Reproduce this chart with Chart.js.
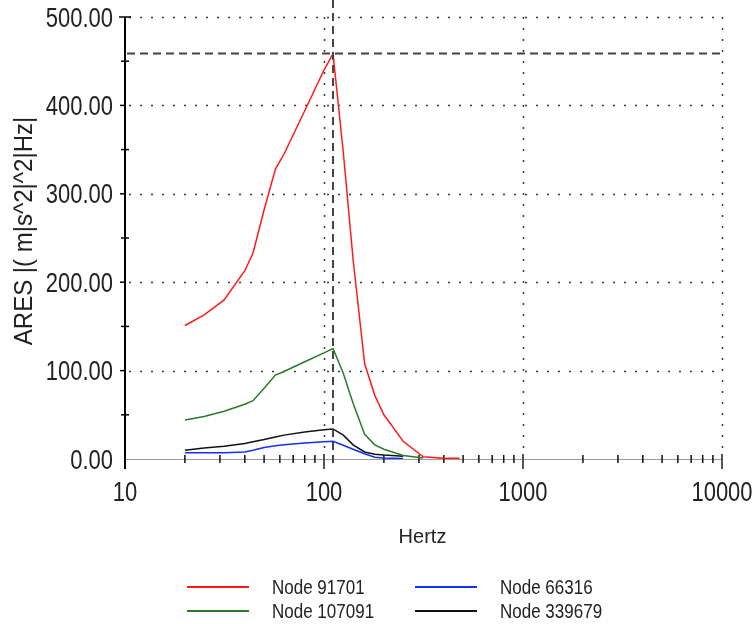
<!DOCTYPE html>
<html>
<head>
<meta charset="utf-8">
<script src="https://cdn.jsdelivr.net/npm/chart.js@4.4.1/dist/chart.umd.min.js"></script>
<style>
  html, body { margin: 0; padding: 0; background: #fff; }
  #wrap { width: 755px; height: 624px; position: relative; }
</style>
</head>
<body>
<div id="wrap"><canvas id="c"></canvas></div>
<script>
// Response spectra sampled at a shared set of frequencies (Hz)
const hertz      = [20, 25, 31.5, 40, 44, 50, 57, 63, 80, 100, 111, 125, 140, 160, 180, 200, 250, 315, 400, 480];
const node91701  = [151, 163, 180, 213, 233, 282, 328, 345, 394, 440, 458.6, 347, 226, 108, 72, 50, 20, 2.5, 0.8, 0.8];
const node107091 = [44, 48, 54, 62, 66, 80, 95, 99, 110, 120, 125, 97, 63, 28, 16, 11, 4, 1, null, null];
const node66316  = [7, 7, 7, 8, 10, 13, 15, 16, 18, 19.5, 20, 15.5, 11, 6, 2, 1, 0.5, null, null, null];
const node339679 = [10, 12.5, 14.5, 17.5, 19.5, 22, 25, 27, 30.5, 33, 34, 27, 16, 8, 5.5, 4.5, 3, null, null, null];

const seriesNames  = ['Node 91701', 'Node 107091', 'Node 66316', 'Node 339679'];
const seriesColors = ['#ff1a1a', '#2a7a2a', '#1030ff', '#111111'];

const xTicks = [10, 100, 1000, 10000];
const yTicks = [0, 100, 200, 300, 400, 500];
const yMinorTicks = [50, 150, 250, 350, 450];

const xTitle = 'Hertz';
const yTitle = 'ARES |( m|s^2|^2|Hz|';

const FONT = '"Liberation Sans", Arial, sans-serif';
const TEXT = '#222';

function points(values) {
  return hertz.map((f, i) => ({ x: f, y: values[i] }));
}

// Text in the tall, narrow look of the axis labels: drawn then stretched vertically
function tallText(ctx, text, x, y, size, align, stretch, rotate) {
  ctx.save();
  ctx.translate(x, y);
  if (rotate) ctx.rotate(-Math.PI / 2);
  ctx.scale(1, stretch);
  ctx.font = size + 'px ' + FONT;
  ctx.fillStyle = TEXT;
  ctx.textAlign = align;
  ctx.textBaseline = 'middle';
  ctx.fillText(text, 0, 0);
  ctx.restore();
}

const frame = {
  id: 'frame',
  // Dotted grid, axis lines and tick marks under the curves
  beforeDatasetsDraw(chart) {
    const { ctx, chartArea: a, scales: { x, y } } = chart;
    ctx.save();
    ctx.strokeStyle = '#3a3a3a';
    ctx.lineWidth = 1.5;
    ctx.setLineDash([2, 9]);
    yTicks.filter(v => v > 0).forEach(v => {
      const py = Math.round(y.getPixelForValue(v)) + 0.5;
      ctx.beginPath(); ctx.moveTo(a.left + 4, py); ctx.lineTo(a.right, py); ctx.stroke();
    });
    xTicks.filter(v => v > 10).forEach(v => {
      const px = Math.round(x.getPixelForValue(v)) + 0.5;
      ctx.beginPath(); ctx.moveTo(px, a.top); ctx.lineTo(px, a.bottom - 4); ctx.stroke();
    });
    ctx.setLineDash([]);

    // x axis line
    ctx.strokeStyle = '#9a9a9a';
    ctx.lineWidth = 1;
    ctx.beginPath(); ctx.moveTo(a.left, a.bottom + 0.5); ctx.lineTo(a.right, a.bottom + 0.5); ctx.stroke();

    // x minor ticks
    ctx.strokeStyle = '#111';
    ctx.lineWidth = 1.5;
    [10, 100, 1000].forEach(d => {
      for (let m = 2; m <= 9; m++) {
        const px = x.getPixelForValue(d * m);
        ctx.beginPath(); ctx.moveTo(px, a.bottom - 4); ctx.lineTo(px, a.bottom + 4); ctx.stroke();
      }
    });
    // x major ticks
    ctx.strokeStyle = '#555';
    ctx.lineWidth = 2;
    xTicks.filter(v => v > 10).forEach(v => {
      const px = x.getPixelForValue(v);
      ctx.beginPath(); ctx.moveTo(px, a.bottom - 5); ctx.lineTo(px, a.bottom + 10); ctx.stroke();
    });

    // y axis line and its ticks
    ctx.strokeStyle = '#000';
    ctx.lineWidth = 2;
    ctx.beginPath(); ctx.moveTo(a.left, a.top); ctx.lineTo(a.left, a.bottom + 10); ctx.stroke();
    ctx.lineWidth = 1.5;
    yMinorTicks.forEach(v => {
      const py = y.getPixelForValue(v);
      ctx.beginPath(); ctx.moveTo(a.left - 4, py); ctx.lineTo(a.left + 4, py); ctx.stroke();
    });
    yTicks.filter(v => v > 0 && v < 500).forEach(v => {
      const py = y.getPixelForValue(v);
      ctx.beginPath(); ctx.moveTo(a.left - 5, py); ctx.lineTo(a.left, py); ctx.stroke();
    });
    const top = y.getPixelForValue(500);
    ctx.beginPath(); ctx.moveTo(a.left - 6, top); ctx.lineTo(a.left + 6, top); ctx.stroke();
    ctx.restore();
  },
  // Crosshair through the highest point of the first series
  afterDatasetsDraw(chart) {
    const { ctx, chartArea: a, scales: { x, y } } = chart;
    let k = 0;
    node91701.forEach((v, i) => { if (v > node91701[k]) k = i; });
    const px = x.getPixelForValue(hertz[k]);
    const py = y.getPixelForValue(node91701[k]);
    ctx.save();
    ctx.strokeStyle = '#444';
    ctx.lineWidth = 2;
    ctx.setLineDash([8, 5]);
    ctx.beginPath(); ctx.moveTo(px, 0); ctx.lineTo(px, a.bottom + 4); ctx.stroke();
    ctx.beginPath(); ctx.moveTo(a.left + 2, py); ctx.lineTo(a.right, py); ctx.stroke();
    ctx.restore();
  },
  // Tick labels, axis titles and the two-column legend
  afterDraw(chart) {
    const { ctx, chartArea: a, scales: { x, y } } = chart;
    yTicks.forEach(v => {
      tallText(ctx, v.toFixed(2), a.left - 12, y.getPixelForValue(v) + 2, 22, 'right', 1.27, false);
    });
    xTicks.forEach(v => {
      tallText(ctx, String(v), x.getPixelForValue(v), a.bottom + 34, 22, 'center', 1.27, false);
    });
    tallText(ctx, xTitle, (a.left + a.right) / 2 - 1, a.bottom + 78, 20, 'center', 1.0, false);
    tallText(ctx, yTitle, 25, (a.top + a.bottom) / 2 - 7, 24, 'center', 1.1, true);

    const cols = [187, 415];
    const rows = [587, 611];
    const order = [[0, 0, 0], [2, 1, 0], [1, 0, 1], [3, 1, 1]];
    order.forEach(([d, c, r]) => {
      const ds = chart.data.datasets[d];
      ctx.save();
      ctx.strokeStyle = ds.borderColor;
      ctx.lineWidth = 2;
      ctx.beginPath(); ctx.moveTo(cols[c], rows[r]); ctx.lineTo(cols[c] + 62, rows[r]); ctx.stroke();
      ctx.restore();
      tallText(ctx, ds.label, cols[c] + 85, rows[r] + 1, 17, 'left', 1.2, false);
    });
  }
};

new Chart(document.getElementById('c'), {
  type: 'line',
  data: {
    datasets: [node91701, node107091, node66316, node339679].map((vals, i) => ({
      label: seriesNames[i],
      data: points(vals),
      borderColor: seriesColors[i],
      backgroundColor: seriesColors[i],
      borderWidth: 1.5,
      pointRadius: 0,
      tension: 0,
      fill: false
    }))
  },
  options: {
    responsive: true,
    maintainAspectRatio: false,
    devicePixelRatio: 1,
    animation: false,
    layout: { padding: { left: 0, top: 17, right: 33, bottom: 64 } },
    plugins: { legend: { display: false }, tooltip: { enabled: false } },
    scales: {
      x: {
        type: 'logarithmic',
        min: 10,
        max: 10000,
        grid: { display: false },
        border: { display: false },
        afterBuildTicks: s => { s.ticks = xTicks.map(v => ({ value: v })); },
        afterFit: s => { s.height = 101; },
        ticks: { display: false }
      },
      y: {
        min: 0,
        max: 500,
        grid: { display: false },
        border: { display: false },
        afterBuildTicks: s => { s.ticks = yTicks.map(v => ({ value: v })); },
        afterFit: s => { s.width = 125; },
        ticks: { display: false }
      }
    }
  },
  plugins: [frame]
});
</script>
</body>
</html>
